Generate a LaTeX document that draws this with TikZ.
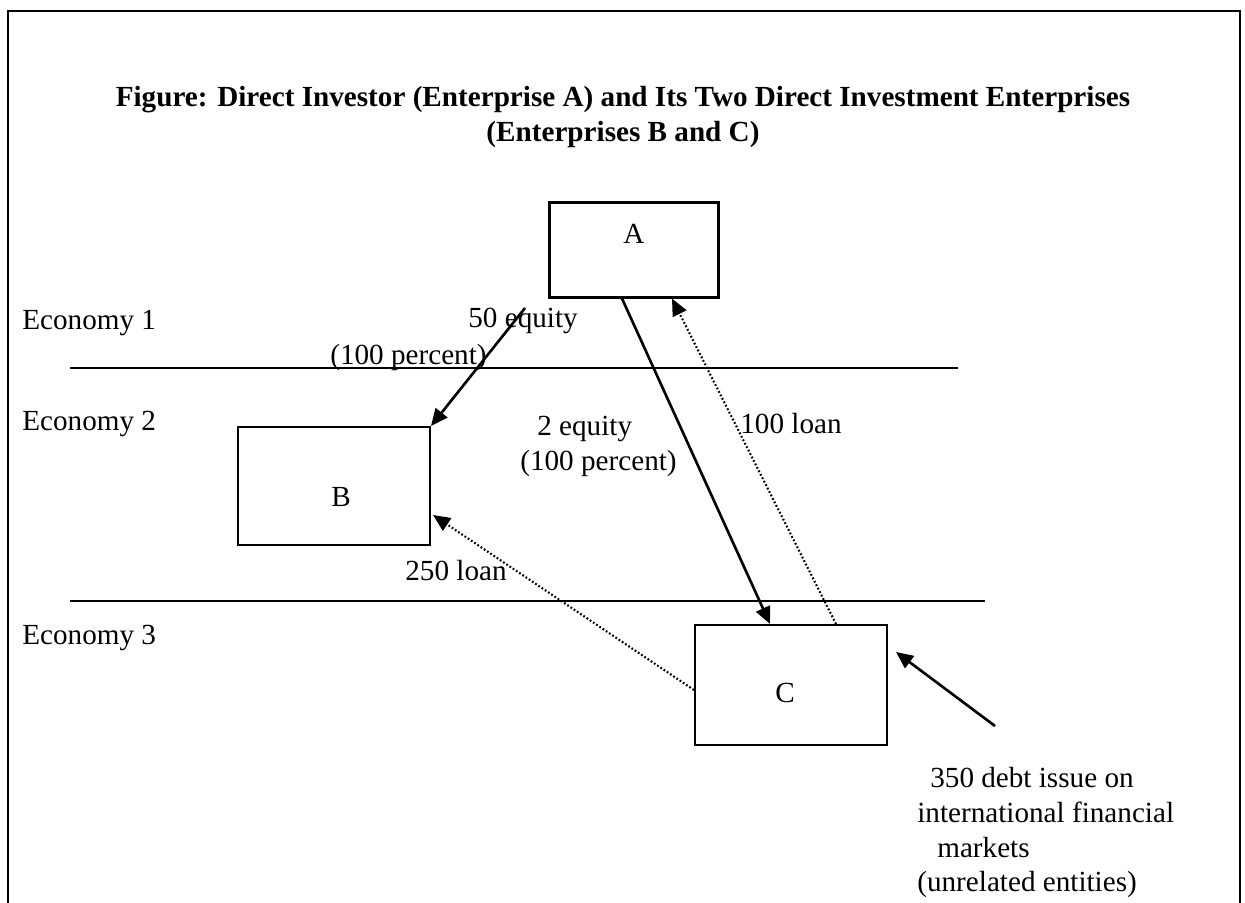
\documentclass[tikz,border=0pt]{standalone}
\usepackage{fontspec}
\setmainfont{Liberation Serif}
\usetikzlibrary{arrows.meta,positioning,calc}

\begin{document}
\begin{tikzpicture}[
    x=0.02cm, y=-0.02cm,
    % Node styles
    firm/.style={draw, rectangle, line width=1.2pt, minimum width=3.38cm, minimum height=1.9cm, inner sep=0pt},
    lbl/.style={font=\fontsize{16.6}{19.8}\selectfont, inner sep=0pt},
    title/.style={font=\fontsize{16.6}{19.4}\selectfont\bfseries, align=center, inner sep=0pt},
    border/.style={line width=1.3pt},
    divider/.style={line width=1.1pt},
    equity/.style={-{Triangle[length=0.34cm, width=0.3cm]}, line width=1.5pt},
    loan/.style={-{Triangle[length=0.34cm, width=0.3cm]}, line width=1.2pt, dash pattern=on 1pt off 1.2pt},
]

\useasboundingbox (0,0) rectangle (1245,903);

% ============================================================
% Frame and title
% ============================================================
\draw[border] (8,903) -- (8,11) -- (1240,11) -- (1240,903);
\node[title] (head) at (623,117)
  {Figure: Direct Investor (Enterprise A) and Its Two Direct Investment Enterprises\\(Enterprises B and C)};

% ============================================================
% Economies
% ============================================================
\node[lbl, anchor=west] (eco1) at (22,323) {Economy 1};
\node[lbl, anchor=west] (eco2) at (22,424) {Economy 2};
\node[lbl, anchor=west] (eco3) at (22,638) {Economy 3};

\draw[divider] (70,368) -- (958,368);
\draw[divider] (70,601) -- (985,601);

% ============================================================
% Enterprises
% ============================================================
\node[firm, label={[lbl, yshift=0.32cm]center:A}] (A) at (634,250) {};
\node[firm, minimum width=3.84cm, minimum height=2.36cm,
      label={[lbl, xshift=0.14cm, yshift=-0.22cm]center:B}] (B) at (334,486) {};
\node[firm, minimum width=3.84cm, minimum height=2.4cm,
      label={[lbl, xshift=-0.12cm, yshift=-0.16cm]center:C}] (C) at (791,685) {};

% ============================================================
% Flow labels
% ============================================================
\node[lbl, anchor=west] (eq50) at (468,321) {50 equity};
\node[lbl, anchor=west] (pc50) at (330,357) {(100 percent)};
\node[lbl, anchor=north west, align=left] (eq2) at (520,416)
  {\hspace{0.34cm}2 equity\\(100 percent)};
\node[lbl, anchor=west] (ln100) at (740,424) {100 loan};
\node[lbl, anchor=west] (ln250) at (405,571) {250 loan};
\node[lbl, anchor=north west, align=left] (debt) at (917,767)
  {\hspace{0.26cm}350 debt issue on\\international financial\\\hspace{0.4cm}markets\\(unrelated entities)};

% ============================================================
% Connector ends
% ============================================================
\coordinate (s50) at (525,308);
\coordinate (s2) at ([xshift=-0.24cm]A.south);
\coordinate (e2) at ([xshift=-0.42cm]C.north);
\coordinate (s100) at ([xshift=0.9cm]C.north);
\coordinate (e100) at ([xshift=0.76cm]A.south);
\coordinate (s250) at ([yshift=-0.1cm]C.west);
\coordinate (e250) at ([xshift=0.04cm, yshift=-0.58cm]B.east);
\coordinate (s350) at (995,726);
\coordinate (e350) at ([xshift=0.16cm, yshift=0.66cm]C.east);

% ============================================================
% Edges
% ============================================================
\draw[equity] (s50) -- (B.north east);
\draw[equity] (s2) -- (e2);
\draw[loan] (s100) -- (e100);
\draw[loan] (s250) -- (e250);
\draw[equity] (s350) -- (e350);

\end{tikzpicture}
\end{document}
